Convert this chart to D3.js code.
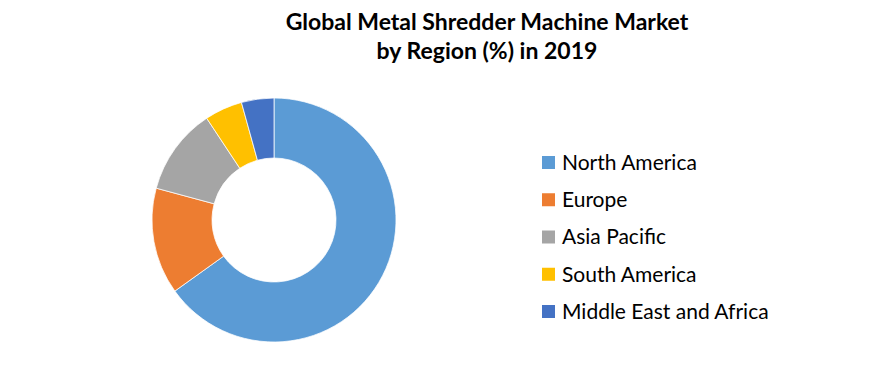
<!DOCTYPE html>
<html>
<head>
<meta charset="utf-8">
<script src="https://cdn.jsdelivr.net/npm/d3@7"></script>
<style>
  body { margin: 0; background: #fff; }
  svg text { font-family: Lato, "Open Sans", sans-serif; fill: #000; }
</style>
</head>
<body>
<svg id="chart" width="888" height="384"></svg>
<script>
(function (d3) {
    'use strict';

    var regions = ['North America', 'Europe', 'Asia Pacific', 'South America', 'Middle East and Africa'];
    var shares = [65.1, 14.1, 11.5, 5.0, 4.3];
    var colors = ['#5B9BD5', '#ED7D31', '#A5A5A5', '#FFC000', '#4472C4'];
    var titleLines = ['Global Metal Shredder Machine Market', 'by Region (%) in 2019'];

    var width = 888,
    height = 384,
    cx = 274,
    cy = 220,
    outerR = 122,
    innerR = 62;

    var data = regions.map(function (r, i) {
        return { region: r, value: shares[i], color: colors[i] };
    });

    var svg = d3.select('#chart');

    svg.append('rect')
    .attr('width', width)
    .attr('height', height)
    .attr('fill', '#fff');

    // title
    var title = svg.append('text')
    .attr('x', 487)
    .attr('y', 30)
    .attr('text-anchor', 'middle')
    .style('font-size', '23px')
    .style('font-weight', 'bold');

    title.selectAll('tspan')
    .data(titleLines)
    .enter()
    .append('tspan')
    .attr('x', 487)
    .attr('dy', function (d, i) { return i === 0 ? 0 : 29; })
    .text(function (d) { return d; });

    // donut
    var pie = d3.pie()
    .sort(null)
    .value(function (d) { return d.value; });

    var arc = d3.arc()
    .innerRadius(innerR)
    .outerRadius(outerR);

    svg.append('g')
    .attr('transform', 'translate(' + cx + ',' + cy + ')')
    .selectAll('path')
    .data(pie(data))
    .enter()
    .append('path')
    .attr('d', arc)
    .attr('fill', function (d) { return d.data.color; })
    .attr('stroke', '#fff')
    .attr('stroke-width', 0.75);

    // legend
    var y = d3.scalePoint()
    .domain(regions)
    .range([162.5, 311.5]);

    var legend = svg.append('g')
    .selectAll('.legend')
    .data(data)
    .enter()
    .append('g')
    .attr('class', 'legend')
    .attr('transform', function (d) { return 'translate(542,' + y(d.region) + ')'; });

    legend.append('rect')
    .attr('x', 0)
    .attr('y', -6.5)
    .attr('width', 13)
    .attr('height', 13)
    .attr('fill', function (d) { return d.color; });

    legend.append('text')
    .attr('x', 20)
    .attr('y', 0)
    .attr('dy', '0.35em')
    .style('font-size', '21px')
    .text(function (d) { return d.region; });
})(d3);
</script>
</body>
</html>
